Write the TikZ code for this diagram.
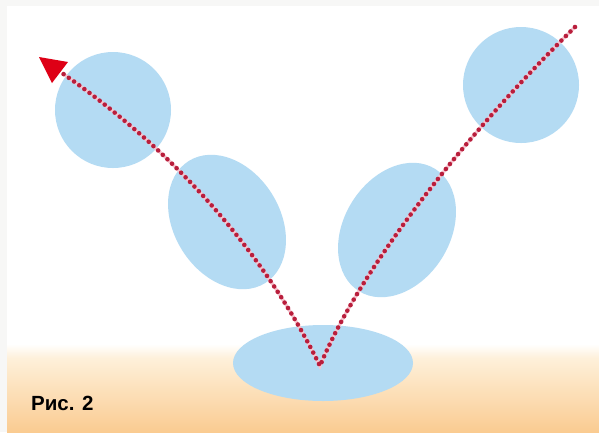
\documentclass[tikz,border=0pt]{standalone}
\usepackage{fontspec}
\setmainfont{Liberation Sans}
\begin{document}
\begin{tikzpicture}[x=1pt,y=-1pt,
  blob/.style={fill=blobblue,draw=none},
  ray/.style={draw=raypink!55,line width=3.2pt},
  raydots/.style={draw=rayred,line width=4.6pt,line cap=round,dash pattern=on 0pt off 6.4pt},
  tiphead/.style={fill=arrowred,draw=none}]
\definecolor{blobblue}{RGB}{180,219,243}
\definecolor{raypink}{RGB}{240,150,170}
\definecolor{rayred}{RGB}{185,30,60}
\definecolor{arrowred}{RGB}{222,0,22}
\definecolor{framegrey}{RGB}{247,247,246}
\definecolor{sandtop}{RGB}{254,240,218}
\definecolor{sandbot}{RGB}{250,203,145}
\useasboundingbox (0,0) rectangle (599,432);
% frame and background
\fill[framegrey] (0,0) rectangle (599,432);
\fill[white] (7,6) rectangle (599,432);
\shade[top color=white,bottom color=sandtop] (7,344) rectangle (599,358);
\shade[top color=sandtop,bottom color=sandbot] (7,358) rectangle (599,432);
% blobs
\fill[blob] (113,110) circle [radius=58];
\fill[blob] (521,85) circle [radius=58];
\fill[blob,rotate around={-58:(227,222)}] (227,222) ellipse [x radius=72, y radius=53];
\fill[blob,rotate around={58:(397,230)}] (397,230) ellipse [x radius=72, y radius=53];
\fill[blob] (323,363) ellipse [x radius=90, y radius=38];
% ray coordinates
\coordinate (src) at (575,27);
\coordinate (apex) at (320,366);
\coordinate (base) at (62,73);
\coordinate (tip) at (39,57);
\coordinate (hl) at (68,62);
\coordinate (hr) at (52,83);
% ray
\path[ray] (src) .. controls (450,150) and (355,280) .. (apex)
  .. controls (272,268) and (190,162) .. (base);
\path[raydots] (src) .. controls (450,150) and (355,280) .. (apex)
  .. controls (272,268) and (190,162) .. (base);
\fill[tiphead] (tip) -- (hl) -- (hr) -- cycle;
% caption
\node[anchor=base west,inner sep=0pt,font=\bfseries\fontsize{20.5}{20.5}\selectfont] (cap) at (31,410) {Рис. 2};
\end{tikzpicture}
\end{document}
